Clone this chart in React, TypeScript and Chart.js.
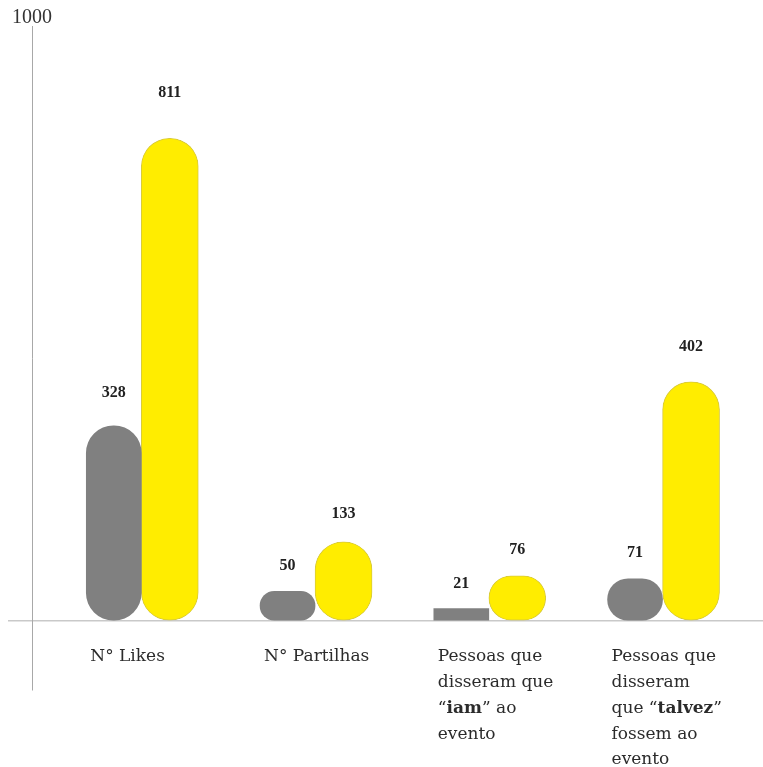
import React, { useEffect, useRef } from 'react';
import { Chart, registerables } from 'chart.js';

Chart.register(...registerables);

// ---- data ----
const categoryLabels: string[][] = [
  ['N° Likes'],
  ['N° Partilhas'],
  ['Pessoas que', 'disseram que', '“**iam**” ao', 'evento'],
  ['Pessoas que', 'disseram', 'que “**talvez**”', 'fossem ao', 'evento'],
];
const grayValues = [328, 50, 21, 71];
const yellowValues = [811, 133, 76, 402];
const yTickValues = [0, 1000];
const yLabelledTicks = [1000];

const GRAY = '#808080';
const YELLOW = '#ffed00';
const LABEL_FONT = '"DejaVu Serif", serif';
const NUM_FONT = '"Liberation Serif", serif';

const valueLabelPlugin = {
  id: 'valueLabels',
  afterDatasetsDraw(chart: any) {
    const { ctx } = chart;
    const base = chart.scales.y.getPixelForValue(0);
    ctx.save();
    ctx.font = `bold 16px ${NUM_FONT}`;
    ctx.fillStyle = '#222';
    ctx.textAlign = 'center';
    ctx.textBaseline = 'middle';
    chart.data.datasets.forEach((ds: any, di: number) => {
      const meta = chart.getDatasetMeta(di);
      meta.data.forEach((el: any, i: number) => {
        const v = ds.data[i].y;
        const h = base - el.y;
        const off = 24 + 0.045 * h;
        ctx.fillText(String(v), el.x, el.y - off);
      });
    });
    ctx.restore();
  },
};

const categoryLabelPlugin = {
  id: 'categoryLabels',
  afterDraw(chart: any) {
    const { ctx } = chart;
    const xs = chart.scales.x;
    const ys = chart.scales.y;
    const y0 = ys.getPixelForValue(0) + 36;
    const lineH = 25.7;
    ctx.save();
    ctx.fillStyle = '#2b2b2b';
    ctx.textAlign = 'left';
    ctx.textBaseline = 'middle';
    categoryLabels.forEach((lines, i) => {
      const x0 = xs.getPixelForValue(i) - 51;
      lines.forEach((line, k) => {
        const parts = line.split('**');
        let x = x0;
        parts.forEach((p, pi) => {
          if (!p) return;
          ctx.font = `${pi % 2 === 1 ? 'bold ' : ''}17px ${LABEL_FONT}`;
          ctx.fillText(p, x, y0 + k * lineH);
          x += ctx.measureText(p).width;
        });
      });
    });
    ctx.restore();
  },
};

export default function App() {
  const ref = useRef<HTMLCanvasElement | null>(null);

  useEffect(() => {
    if (!ref.current) return;
    const radius = (c: any) => (c.raw && c.raw.y < 30 ? 0 : 28);
    const chart = new Chart(ref.current, {
      type: 'bar',
      data: {
        datasets: [
          {
            label: 'gray',
            data: grayValues.map((v, i) => ({ x: i, y: v })),
            backgroundColor: GRAY,
            borderWidth: 0,
            borderRadius: radius,
            borderSkipped: false,
            barThickness: 55,
          },
          {
            label: 'yellow',
            data: yellowValues.map((v, i) => ({ x: i, y: v })),
            backgroundColor: YELLOW,
            borderColor: '#d8ca3c',
            borderWidth: 1,
            borderRadius: radius,
            borderSkipped: false,
            barThickness: 57,
          },
        ],
      } as any,
      options: {
        animation: false,
        responsive: false,
        maintainAspectRatio: false,
        layout: { padding: { left: 8, top: 26, right: 0, bottom: 77 } },
        plugins: {
          legend: { display: false },
          tooltip: { enabled: false },
        },
        scales: {
          x: {
            type: 'linear',
            display: false,
            offset: false,
            grid: { offset: false },
            min: -0.629,
            max: 3.578,
          },
          y: {
            min: -116,
            max: 1000,
            afterFit: (s: any) => {
              s.width = 24;
            },
            afterBuildTicks: (s: any) => {
              s.ticks = yTickValues.map((v) => ({ value: v }));
            },
            grid: {
              color: (c: any) => (c.tick && c.tick.value === 0 ? '#c9c9c9' : 'rgba(0,0,0,0)'),
              lineWidth: 1.5,
              tickLength: 24,
              drawTicks: true,
              drawOnChartArea: true,
            },
            border: { display: true, color: '#a8a8a8', width: 1 },
            ticks: {
              mirror: true,
              padding: -20,
              labelOffset: -8,
              color: '#333',
              font: { family: NUM_FONT, size: 20 },
              callback: (v: any) => (yLabelledTicks.includes(Number(v)) ? String(v) : ''),
            },
          },
        },
      } as any,
      plugins: [valueLabelPlugin, categoryLabelPlugin],
    });
    return () => chart.destroy();
  }, []);

  return (
    <div style={{ position: 'absolute', left: 0, top: 0, width: 763, height: 767, background: '#fff' }}>
      <canvas ref={ref} width={763} height={767} style={{ display: 'block' }} />
    </div>
  );
}
